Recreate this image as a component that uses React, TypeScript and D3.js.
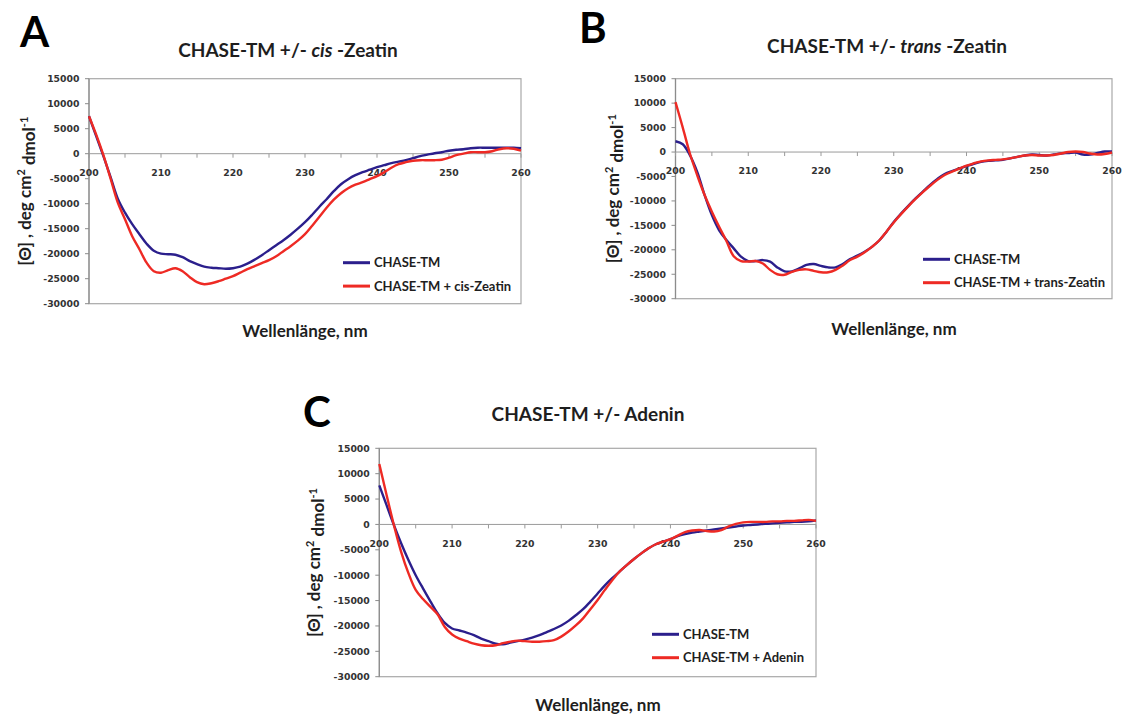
import React from "react";
import * as d3 from "d3";

const wavelengths = [
  200, 201, 202, 203, 204, 205, 206, 207, 208, 209, 210, 211, 212, 213, 214, 215, 216, 217, 218, 219,
  220, 221, 222, 223, 224, 225, 226, 227, 228, 229, 230, 231, 232, 233, 234, 235, 236, 237, 238, 239,
  240, 241, 242, 243, 244, 245, 246, 247, 248, 249, 250, 251, 252, 253, 254, 255, 256, 257, 258, 259, 260,
];

const xTicks = [200, 210, 220, 230, 240, 250, 260];
const xMinorTicks = [205, 215, 225, 235, 245, 255];
const yTicks = [15000, 10000, 5000, 0, -5000, -10000, -15000, -20000, -25000, -30000];

// Panel A: CHASE-TM +/- cis-Zeatin
const aChase = [
  7500, 3500, -500, -4700, -9000, -11800, -14100, -16100, -18000, -19400, -20000, -20100, -20200, -20700, -21500, -22100, -22600, -22800, -22900, -23000,
  -22900, -22600, -22000, -21200, -20300, -19300, -18300, -17300, -16200, -15000, -13700, -12200, -10600, -9100, -7500, -6100, -5100, -4300, -3700, -3200,
  -2700, -2300, -1900, -1600, -1300, -900, -500, -200, 100, 300, 600, 800, 900, 1100, 1200, 1200, 1200, 1200, 1200, 1200, 1100,
];
const aCis = [
  7500, 3800, -300, -5000, -9800, -13100, -16500, -19100, -21800, -23500, -23800, -23300, -22900, -23500, -24700, -25700, -26100, -25900, -25500, -25000,
  -24500, -23800, -23100, -22500, -21900, -21300, -20500, -19500, -18500, -17400, -16100, -14400, -12600, -10800, -9200, -7900, -6900, -6200, -5700, -5100,
  -4500, -3700, -2800, -2100, -1700, -1400, -1300, -1300, -1300, -1200, -800, -300, 0, 300, 300, 300, 500, 900, 1100, 1000, 600,
];

// Panel B: CHASE-TM +/- trans-Zeatin
const bChase = [
  2200, 1600, -700, -4100, -8800, -12900, -16000, -18000, -19700, -21400, -22300, -22300, -22100, -22400, -23600, -24400, -24400, -23800, -23100, -22900,
  -23300, -23600, -23600, -22900, -21900, -21200, -20400, -19400, -18100, -16300, -14300, -12600, -11000, -9500, -8100, -6700, -5500, -4500, -3900, -3400,
  -2900, -2400, -2000, -1800, -1700, -1600, -1300, -1000, -700, -500, -600, -700, -500, -300, -200, -100, -500, -500, -200, 100, 100,
];
const bTrans = [
  10200, 5000, -400, -4800, -8800, -12200, -15300, -18200, -21300, -22300, -22400, -22300, -22800, -24100, -25000, -25100, -24500, -24100, -24000, -24300,
  -24600, -24600, -24100, -23200, -22100, -21400, -20500, -19400, -18100, -16300, -14400, -12700, -11100, -9600, -8200, -6900, -5700, -4700, -4000, -3400,
  -2800, -2300, -1900, -1700, -1600, -1500, -1300, -1000, -700, -600, -700, -700, -600, -300, 0, 100, 0, -300, -500, -400, -100,
];

// Panel C: CHASE-TM +/- Adenin
const cChase = [
  7700, 3800, -100, -3700, -7000, -10000, -12600, -15100, -17500, -19400, -20500, -20900, -21300, -21800, -22500, -23000, -23500, -23600, -23300, -23000,
  -22700, -22300, -21800, -21200, -20600, -19900, -19000, -17900, -16700, -15200, -13600, -12000, -10600, -9300, -8000, -6800, -5700, -4700, -3900, -3400,
  -2900, -2300, -1900, -1600, -1400, -1200, -1000, -800, -600, -400, -200, -100, 0, 100, 200, 300, 400, 500, 500, 600, 800,
];
const cAdenin = [
  11900, 5800, -100, -5400, -9600, -12900, -14700, -16200, -17700, -20200, -21700, -22500, -23000, -23500, -23800, -23900, -23800, -23400, -23100, -22900,
  -23000, -23100, -23100, -23000, -22800, -22100, -21100, -19900, -18500, -16700, -14900, -12900, -11000, -9300, -8000, -6800, -5700, -4700, -3900, -3400,
  -2900, -2200, -1500, -1200, -1100, -1300, -1400, -1100, -400, 100, 400, 500, 500, 500, 600, 600, 700, 700, 800, 900, 700,
];

const seriesNames = ["CHASE-TM", "CHASE-TM + cis-Zeatin", "CHASE-TM + trans-Zeatin", "CHASE-TM + Adenin"];
const panelLetters = ["A", "B", "C"];
const ligandNames = ["cis", "trans", ""];

const BLUE = "#2b1f8c";
const RED = "#ee2a24";
const TEXT = "#1e1e1e";
const TICK_TEXT = "#333333";
const FRAME = "#a8a8a8";

const panels = [
  {
    letter: panelLetters[0], ligand: ligandNames[0], legend: seriesNames[1],
    base: aChase, treated: aCis,
    x0: 89, x1: 521, yTop: 78.7, yBot: 303.7,
    letterX: 20, letterY: 46.5, titleX: 288, titleY: 56.5,
    yLabelX: 25, xLabelX: 305, xLabelY: 337,
    legX: 343, legY: 262.7,
  },
  {
    letter: panelLetters[1], ligand: ligandNames[1], legend: seriesNames[2],
    base: bChase, treated: bTrans,
    x0: 675.5, x1: 1112, yTop: 78.7, yBot: 298.7,
    letterX: 579, letterY: 43, titleX: 887, titleY: 52.5,
    yLabelX: 613, xLabelX: 894, xLabelY: 335,
    legX: 923, legY: 259.3,
  },
  {
    letter: panelLetters[2], ligand: ligandNames[2], legend: seriesNames[3],
    base: cChase, treated: cAdenin,
    x0: 379.3, x1: 816, yTop: 448.3, yBot: 676.7,
    letterX: 303, letterY: 427, titleX: 588, titleY: 420.5,
    yLabelX: 314, xLabelX: 598, xLabelY: 711,
    legX: 652, legY: 634.3,
  },
];

const TITLE_FONT = "Lato, 'Open Sans', sans-serif";
const TICK_FONT = "'DejaVu Sans', Verdana, sans-serif";

function Panel({ p }: { p: (typeof panels)[number] }) {
  const x = d3.scaleLinear().domain([200, 260]).range([p.x0, p.x1]);
  const y = d3.scaleLinear().domain([-30000, 15000]).range([p.yBot, p.yTop]);
  const line = d3
    .line<number>()
    .x((_, i) => x(wavelengths[i]))
    .y((d) => y(d))
    .curve(d3.curveCatmullRom.alpha(0.5));
  const y0 = y(0);
  const yMid = (p.yTop + p.yBot) / 2;

  return (
    <g>
      <text x={p.letterX} y={p.letterY} fontFamily={TITLE_FONT} fontWeight={700} fontSize={42} fill="#000">
        {p.letter}
      </text>
      <text x={p.titleX} y={p.titleY} textAnchor="middle" fontFamily={TITLE_FONT} fontWeight={700} fontSize={19} fill={TEXT}>
        {p.ligand ? (
          <>
            <tspan>{"CHASE-TM +/- "}</tspan>
            <tspan fontStyle="italic">{p.ligand}</tspan>
            <tspan>{" -Zeatin"}</tspan>
          </>
        ) : (
          <tspan>{"CHASE-TM +/- Adenin"}</tspan>
        )}
      </text>
      <rect x={p.x0} y={p.yTop} width={p.x1 - p.x0} height={p.yBot - p.yTop} fill="#fff" stroke={FRAME} strokeWidth={1.2} />
      <line x1={p.x0} x2={p.x0} y1={p.yTop} y2={p.yBot} stroke="#8c8c8c" strokeWidth={1.2} />
      {yTicks.map((t) => (
        <g key={"yt" + t}>
          <line x1={p.x0 - 4} x2={p.x0} y1={y(t)} y2={y(t)} stroke="#8c8c8c" strokeWidth={1} />
          <text x={p.x0 - 9.5} y={y(t)} dy="0.36em" textAnchor="end" fontFamily={TICK_FONT} fontWeight={700} fontSize={9.3} fill={TICK_TEXT}>
            {t}
          </text>
        </g>
      ))}
      <line x1={p.x0} x2={p.x1} y1={y0} y2={y0} stroke="#9a9a9a" strokeWidth={1} />
      {[...xTicks, ...xMinorTicks].map((t) => (
        <line key={"xt" + t} x1={x(t)} x2={x(t)} y1={y0} y2={y0 + 4} stroke="#9a9a9a" strokeWidth={1} />
      ))}
      {xTicks.map((t) => (
        <text key={"xl" + t} x={x(t)} y={y0 + 19} dy="0.36em" textAnchor="middle" fontFamily={TICK_FONT} fontWeight={700} fontSize={9.3} fill={TICK_TEXT}>
          {t}
        </text>
      ))}
      <path d={line(p.base) || ""} fill="none" stroke={BLUE} strokeWidth={2.4} strokeLinejoin="round" />
      <path d={line(p.treated) || ""} fill="none" stroke={RED} strokeWidth={2.4} strokeLinejoin="round" />
      <line x1={p.legX} x2={p.legX + 27} y1={p.legY} y2={p.legY} stroke={BLUE} strokeWidth={3} />
      <text x={p.legX + 31} y={p.legY} dy="0.36em" fontFamily={TITLE_FONT} fontWeight={700} fontSize={13} fill={TEXT}>
        {seriesNames[0]}
      </text>
      <line x1={p.legX} x2={p.legX + 27} y1={p.legY + 23.4} y2={p.legY + 23.4} stroke={RED} strokeWidth={3} />
      <text x={p.legX + 31} y={p.legY + 23.4} dy="0.36em" fontFamily={TITLE_FONT} fontWeight={700} fontSize={13} fill={TEXT}>
        {p.legend}
      </text>
      <text x={p.xLabelX} y={p.xLabelY} textAnchor="middle" fontFamily={TITLE_FONT} fontWeight={700} fontSize={17} fill={TEXT}>
        Wellenlänge, nm
      </text>
      <text
        transform={`translate(${p.yLabelX},${yMid}) rotate(-90)`}
        textAnchor="middle"
        dy="0.36em"
        fontFamily={TITLE_FONT}
        fontWeight={700}
        fontSize={17}
        fill={TEXT}
      >
        <tspan>{"[Θ] , deg cm"}</tspan>
        <tspan fontSize={11} dy="-0.6em">2</tspan>
        <tspan dy="0.6em">{" dmol"}</tspan>
        <tspan fontSize={11} dy="-0.6em">-1</tspan>
      </text>
    </g>
  );
}

export default function App() {
  return (
    <svg
      width={1126}
      height={715}
      viewBox="0 0 1126 715"
      style={{ position: "absolute", left: 0, top: 0, background: "#fff" }}
    >
      <rect x={0} y={0} width={1126} height={715} fill="#fff" />
      {panels.map((p) => (
        <Panel key={p.letter} p={p} />
      ))}
    </svg>
  );
}
